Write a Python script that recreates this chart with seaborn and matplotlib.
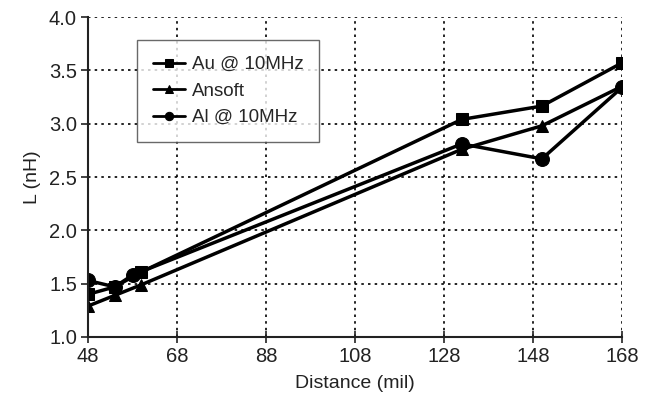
import pandas as pd
import matplotlib
matplotlib.use("Agg")
import matplotlib.pyplot as plt
import seaborn as sns

# values
dist_au = [48, 54, 60, 132, 150, 168]
L_au = [1.40, 1.47, 1.61, 3.04, 3.165, 3.57]
dist_ansoft = [48, 54, 60, 132, 150, 168]
L_ansoft = [1.29, 1.39, 1.49, 2.76, 2.98, 3.35]
dist_al = [48, 54, 58, 132, 150, 168]
L_al = [1.53, 1.47, 1.58, 2.81, 2.67, 3.34]
series = ["Au @ 10MHz", "Ansoft", "Al @ 10MHz"]
x_ticks = [48, 68, 88, 108, 128, 148, 168]

df = pd.concat([
    pd.DataFrame({"dist": dist_au, "L": L_au, "series": series[0]}),
    pd.DataFrame({"dist": dist_ansoft, "L": L_ansoft, "series": series[1]}),
    pd.DataFrame({"dist": dist_al, "L": L_al, "series": series[2]}),
], ignore_index=True)

sns.set_style("white")
plt.rcParams["font.family"] = ["Liberation Sans", "DejaVu Sans"]

f = plt.figure(figsize=(6.51, 3.97), dpi=100, facecolor="white")
ax = f.add_axes([88 / 651, 1 - 337 / 397, (622 - 88) / 651, (337 - 17) / 397])
ax.set_facecolor("white")

sns.lineplot(
    data=df, x="dist", y="L", hue="series", style="series",
    palette=["black"] * 3, markers=["s", "^", "o"], dashes=False,
    markersize=8, linewidth=2.5, markeredgecolor="black",
    sort=False, ax=ax,
)
# bigger circles, and keep Au on top like the reference
for line in ax.get_lines():
    if line.get_marker() == "o":
        line.set_markersize(10)
        line.set_zorder(2.0)
    elif line.get_marker() == "s":
        line.set_zorder(2.4)
    elif line.get_marker() == "^":
        line.set_zorder(2.2)

ax.set_xlim(48, 168)
ax.set_ylim(1.0, 4.0)
ax.set_xticks(x_ticks)
ax.set_yticks([1.0, 1.5, 2.0, 2.5, 3.0, 3.5, 4.0])
ax.set_yticklabels(["1.0", "1.5", "2.0", "2.5", "3.0", "3.5", "4.0"])
ax.grid(True, linestyle=(0, (1.5, 2.5)), color="black", linewidth=1.2)
sns.despine(ax=ax)
for s in ["left", "bottom"]:
    ax.spines[s].set_color("#222222")
    ax.spines[s].set_linewidth(1.5)
ax.tick_params(axis="x", direction="inout", length=8, width=1.2, labelsize=14.5, pad=3, colors="#222222")
ax.tick_params(axis="y", direction="out", length=5, width=1.2, labelsize=14.5, pad=3, colors="#222222")
ax.tick_params(bottom=True, left=True)
ax.set_xlabel("Distance (mil)", fontsize=14, color="#222222", labelpad=7)
ax.set_ylabel("L (nH)", fontsize=14, color="#222222", labelpad=6)

leg = ax.legend(
    loc="upper left", bbox_to_anchor=(0.092, 0.928), borderaxespad=0,
    frameon=True, fancybox=False, fontsize=13.5, handlelength=1.7,
    borderpad=0.85, labelspacing=0.5, handletextpad=0.35,
)
leg.get_frame().set_edgecolor("#444444")
leg.get_frame().set_linewidth(1.0)
for h in leg.get_lines():
    h.set_linewidth(2)
    h.set_markersize(6)

plt.savefig("out.png", dpi=100, facecolor=f.get_facecolor())
